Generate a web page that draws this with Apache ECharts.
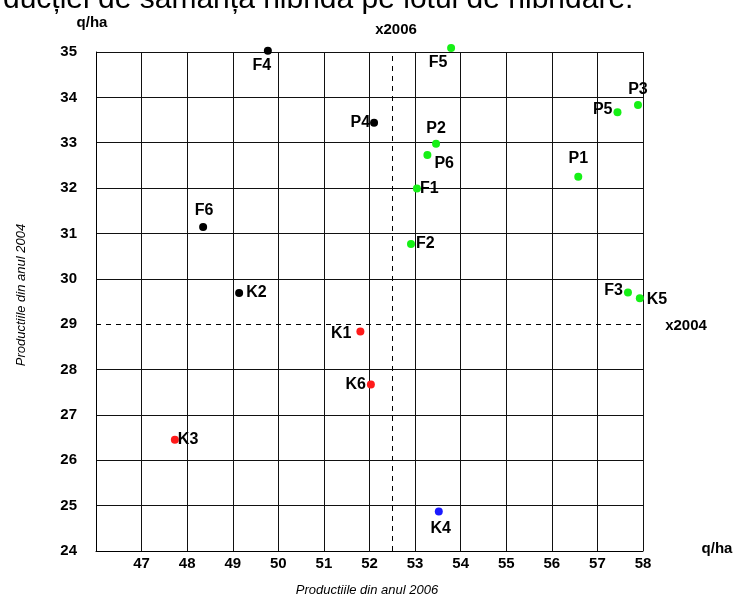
<!DOCTYPE html>
<html>
<head>
<meta charset="utf-8">
<script src="https://cdn.jsdelivr.net/npm/echarts@6/dist/echarts.min.js"></script>
<style>
  html, body { margin: 0; padding: 0; background: #fff; }
  #chart { width: 737px; height: 600px; }
</style>
</head>
<body>
<div id="chart"></div>
<script>
// productii 2006 (x) si 2004 (y), q/ha
const greenNames = ['F5', 'P3', 'P5', 'P2', 'P6', 'P1', 'F1', 'F2', 'F3', 'K5'];
const greenX = [53.79, 57.89, 57.44, 53.46, 53.27, 56.58, 53.04, 52.91, 57.67, 57.93];
const greenY = [35.09, 33.83, 33.67, 32.98, 32.73, 32.25, 31.99, 30.77, 29.70, 29.57];

const blackNames = ['F4', 'P4', 'F6', 'K2'];
const blackX = [49.77, 52.10, 48.35, 49.14];
const blackY = [35.03, 33.44, 31.14, 29.69];

const redNames = ['K1', 'K6', 'K3'];
const redX = [51.80, 52.03, 47.73];
const redY = [28.84, 27.67, 26.45];

const blueNames = ['K4'];
const blueX = [53.52];
const blueY = [24.87];

const xTicks = [46, 47, 48, 49, 50, 51, 52, 53, 54, 55, 56, 57, 58];
const yTicks = [24, 25, 26, 27, 28, 29, 30, 31, 32, 33, 34, 35];

const mean2006 = 52.5;
const mean2004 = 29;

// unde sta eticheta fiecarui punct
const labelPos = {
  F5: { position: 'bottom', offset: [-13, 0] },
  P3: { position: 'top' },
  P5: { position: 'left', offset: [2, -3] },
  P2: { position: 'top' },
  P6: { position: 'right', offset: [0, 9] },
  P1: { position: 'top', offset: [0, -3] },
  F1: { position: 'right', offset: [-4, 0] },
  F2: { position: 'right', offset: [-2, 0] },
  F3: { position: 'left', offset: [2, -2] },
  K5: { position: 'right', offset: [0, 1] },
  F4: { position: 'bottom', offset: [-6, 0] },
  P4: { position: 'left', offset: [3, 0] },
  F6: { position: 'top', offset: [1, -2] },
  K2: { position: 'right' },
  K1: { position: 'left', offset: [-2, 2] },
  K6: { position: 'left', offset: [2, 0] },
  K3: { position: 'right', offset: [-4, 0] },
  K4: { position: 'bottom', offset: [2, 2] }
};

function makeData(names, xs, ys) {
  return names.map((n, i) => {
    const lp = labelPos[n] || { position: 'right' };
    return {
      name: n,
      value: [xs[i], ys[i]],
      label: { position: lp.position, offset: lp.offset || [0, 0] }
    };
  });
}

const font = 'Liberation Sans, Arial, sans-serif';

const labelStyle = {
  show: true,
  formatter: p => p.name,
  color: '#000',
  fontFamily: font,
  fontWeight: 'bold',
  fontSize: 16,
  distance: 3
};

function pointSeries(names, xs, ys, color) {
  return {
    type: 'scatter',
    symbol: 'circle',
    symbolSize: 8,
    clip: false,
    itemStyle: { color: color, opacity: 1 },
    label: labelStyle,
    data: makeData(names, xs, ys),
    z: 5
  };
}

// linia de la 29 e doar punctata, fara linie plina
const ySplitColors = yTicks.map(t => t === mean2004 ? 'rgba(0,0,0,0)' : '#111');

const chart = echarts.init(document.getElementById('chart'), null, { renderer: 'canvas' });

chart.setOption({
  animation: false,
  backgroundColor: '#fff',
  grid: { left: 96, right: 94, top: 52, bottom: 49 },
  xAxis: {
    type: 'value',
    min: xTicks[0],
    max: xTicks[xTicks.length - 1],
    interval: 1,
    axisLine: { show: true, lineStyle: { color: '#000', width: 1 } },
    axisTick: { show: false },
    axisLabel: {
      color: '#000', fontFamily: font, fontWeight: 'bold', fontSize: 15, margin: 5,
      showMinLabel: false
    },
    splitLine: { show: true, showMinLine: true, showMaxLine: true, lineStyle: { color: '#111', width: 1 } }
  },
  yAxis: {
    type: 'value',
    min: yTicks[0],
    max: yTicks[yTicks.length - 1],
    interval: 1,
    axisLine: { show: true, lineStyle: { color: '#000', width: 1 } },
    axisTick: { show: false },
    axisLabel: { color: '#000', fontFamily: font, fontWeight: 'bold', fontSize: 15, margin: 19 },
    splitLine: { show: true, showMinLine: true, showMaxLine: true, lineStyle: { color: ySplitColors, width: 1 } }
  },
  graphic: [
    {
      type: 'text', x: 3, y: 15,
      style: { text: 'ducției de sămânța hibridă pe lotul de hibridare.', font: '30px ' + font, fill: '#000', verticalAlign: 'bottom' }
    },
    {
      type: 'text', x: 92, y: 23,
      style: { text: 'q/ha', font: 'bold 15px ' + font, fill: '#000', align: 'center', verticalAlign: 'middle' }
    },
    {
      type: 'text', x: 396, y: 30,
      style: { text: 'x2006', font: 'bold 15px ' + font, fill: '#000', align: 'center', verticalAlign: 'middle' }
    },
    {
      type: 'text', x: 686, y: 326,
      style: { text: 'x2004', font: 'bold 15px ' + font, fill: '#000', align: 'center', verticalAlign: 'middle' }
    },
    {
      type: 'text', x: 717, y: 549,
      style: { text: 'q/ha', font: 'bold 15px ' + font, fill: '#000', align: 'center', verticalAlign: 'middle' }
    },
    {
      type: 'text', x: 367, y: 590,
      style: { text: 'Productiile din anul 2006', font: 'italic 13px ' + font, fill: '#000', align: 'center', verticalAlign: 'middle' }
    },
    {
      type: 'text', x: 21, y: 295, rotation: Math.PI / 2,
      style: { text: 'Productiile din anul 2004', font: 'italic 13px ' + font, fill: '#000', align: 'center', verticalAlign: 'middle' }
    }
  ],
  series: [
    {
      type: 'scatter',
      data: [],
      markLine: {
        silent: true,
        symbol: 'none',
        label: { show: false },
        lineStyle: { color: '#000', type: [5, 5], width: 1 },
        data: [{ xAxis: mean2006 }, { yAxis: mean2004 }]
      }
    },
    pointSeries(greenNames, greenX, greenY, '#16f016'),
    pointSeries(blackNames, blackX, blackY, '#000'),
    pointSeries(redNames, redX, redY, '#ff1a1a'),
    pointSeries(blueNames, blueX, blueY, '#1a1aff')
  ]
});
</script>
</body>
</html>
